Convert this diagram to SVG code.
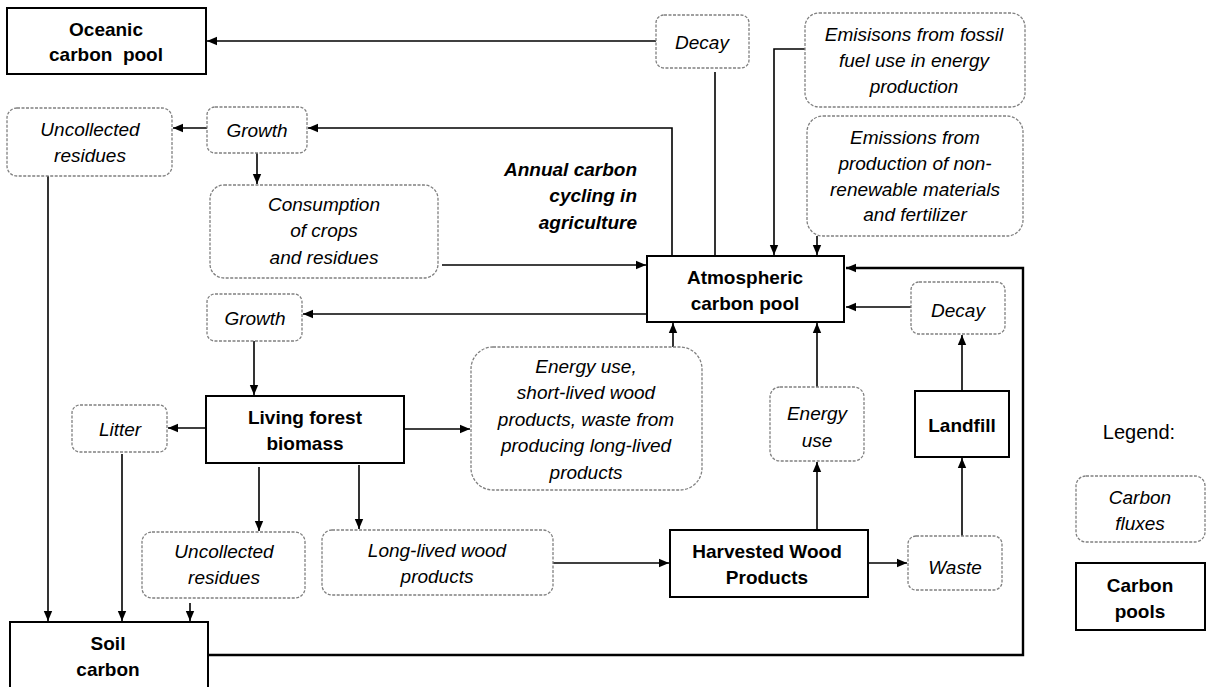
<svg xmlns="http://www.w3.org/2000/svg" width="1207" height="687" viewBox="0 0 1207 687">
<style>
.pool{fill:#fff;stroke:#000;stroke-width:2}
.flux{fill:#fff;stroke:#808080;stroke-width:1.3;stroke-dasharray:3 1.5}
text{font-family:"Liberation Sans",Arial,sans-serif;font-size:19px;fill:#000;text-anchor:middle;dominant-baseline:central}
.b{font-weight:bold}
.i{font-style:italic}
.c{fill:none;stroke:#000;stroke-width:1.6}
.thick{stroke-width:2.4}
</style>
<defs>
<marker id="ah" markerUnits="userSpaceOnUse" markerWidth="10" markerHeight="10" viewBox="0 0 10 10" refX="10" refY="5" orient="auto">
<path d="M0,0.8 L10,5 L0,9.2 z" fill="#000"/>
</marker>
</defs>
<rect width="1207" height="687" fill="#fff"/>

<g id="connectors">
<path class="c" d="M656,41 H207" marker-end="url(#ah)"/>
<path class="c" d="M715,72 V256"/>
<path class="c" d="M805,49 H774 V255" marker-end="url(#ah)"/>
<path class="c" d="M817,236 V255" marker-end="url(#ah)"/>
<path class="c" d="M672,256 V128 H308" marker-end="url(#ah)"/>
<path class="c" d="M207,128 H173" marker-end="url(#ah)"/>
<path class="c" d="M257,153 V184" marker-end="url(#ah)"/>
<path class="c" d="M442,265 H646" marker-end="url(#ah)"/>
<path class="c" d="M48,176 V621" marker-end="url(#ah)"/>
<path class="c" d="M647,314 H303" marker-end="url(#ah)"/>
<path class="c" d="M254,341 V395" marker-end="url(#ah)"/>
<path class="c" d="M206,428 H168" marker-end="url(#ah)"/>
<path class="c" d="M404,429 H470" marker-end="url(#ah)"/>
<path class="c" d="M122,454 V621" marker-end="url(#ah)"/>
<path class="c" d="M259,467 V531" marker-end="url(#ah)"/>
<path class="c" d="M359,465 V529" marker-end="url(#ah)"/>
<path class="c" d="M190,603 V621" marker-end="url(#ah)"/>
<path class="c" d="M673,347 V323" marker-end="url(#ah)"/>
<path class="c" d="M553,563 H669" marker-end="url(#ah)"/>
<path class="c" d="M817,530 V462" marker-end="url(#ah)"/>
<path class="c" d="M817,387 V323" marker-end="url(#ah)"/>
<path class="c" d="M866,563 H907" marker-end="url(#ah)"/>
<path class="c" d="M962,536 V458" marker-end="url(#ah)"/>
<path class="c" d="M962,391 V335" marker-end="url(#ah)"/>
<path class="c" d="M911,307 H846" marker-end="url(#ah)"/>
<path class="c thick" d="M208,655 H1023 V268 H846" marker-end="url(#ah)"/>
</g>

<g id="oceanic">
<rect class="pool" x="7" y="8" width="199" height="66"/>
<text class="b" x="106" y="29">Oceanic</text>
<text class="b" x="106" y="54" xml:space="preserve">carbon  pool</text>
</g>

<g id="decay-top">
<rect class="flux" x="656" y="15" width="93" height="53" rx="8"/>
<text class="i" x="702" y="42">Decay</text>
</g>

<g id="fossil">
<rect class="flux" x="805" y="13" width="220" height="94" rx="14"/>
<text class="i" x="914" y="34">Emisisons from fossil</text>
<text class="i" x="914" y="60">fuel use in energy</text>
<text class="i" x="914" y="86">production</text>
</g>

<g id="production">
<rect class="flux" x="807" y="116" width="216" height="120" rx="16"/>
<text class="i" x="915" y="137">Emissions from</text>
<text class="i" x="915" y="163">production of non-</text>
<text class="i" x="915" y="189">renewable materials</text>
<text class="i" x="915" y="214">and fertilizer</text>
</g>

<g id="annual">
<text class="b i" x="637" y="169" style="text-anchor:end">Annual carbon</text>
<text class="b i" x="637" y="195" style="text-anchor:end">cycling in</text>
<text class="b i" x="637" y="222" style="text-anchor:end">agriculture</text>
</g>

<g id="atmospheric">
<rect class="pool" x="647" y="256" width="197" height="66"/>
<text class="b" x="745" y="277">Atmospheric</text>
<text class="b" x="745" y="303">carbon pool</text>
</g>

<g id="decay-right">
<rect class="flux" x="911" y="282" width="94" height="52" rx="8"/>
<text class="i" x="958" y="310">Decay</text>
</g>

<g id="uncollected-top">
<rect class="flux" x="7" y="108" width="165" height="68" rx="10"/>
<text class="i" x="90" y="129">Uncollected</text>
<text class="i" x="90" y="155">residues</text>
</g>

<g id="growth-top">
<rect class="flux" x="207" y="107" width="100" height="46" rx="8"/>
<text class="i" x="257" y="130">Growth</text>
</g>

<g id="consumption">
<rect class="flux" x="210" y="185" width="228" height="93" rx="14"/>
<text class="i" x="324" y="204">Consumption</text>
<text class="i" x="324" y="230">of crops</text>
<text class="i" x="324" y="257">and residues</text>
</g>

<g id="growth-forest">
<rect class="flux" x="207" y="294" width="95" height="47" rx="8"/>
<text class="i" x="255" y="318">Growth</text>
</g>

<g id="living-forest">
<rect class="pool" x="206" y="396" width="198" height="67"/>
<text class="b" x="305" y="417">Living forest</text>
<text class="b" x="305" y="443">biomass</text>
</g>

<g id="litter">
<rect class="flux" x="72" y="405" width="95" height="47" rx="8"/>
<text class="i" x="120" y="429">Litter</text>
</g>

<g id="energy-short">
<rect class="flux" x="471" y="347" width="231" height="143" rx="22"/>
<text class="i" x="586" y="366">Energy use,</text>
<text class="i" x="586" y="392">short-lived wood</text>
<text class="i" x="586" y="419">products, waste from</text>
<text class="i" x="586" y="445">producing long-lived</text>
<text class="i" x="586" y="472">products</text>
</g>

<g id="energy-use">
<rect class="flux" x="770" y="387" width="94" height="74" rx="10"/>
<text class="i" x="817" y="413">Energy</text>
<text class="i" x="817" y="440">use</text>
</g>

<g id="landfill">
<rect class="pool" x="915" y="391" width="94" height="66"/>
<text class="b" x="962" y="425">Landfill</text>
</g>

<g id="uncollected-forest">
<rect class="flux" x="142" y="532" width="163" height="66" rx="10"/>
<text class="i" x="224" y="551">Uncollected</text>
<text class="i" x="224" y="577">residues</text>
</g>

<g id="long-lived">
<rect class="flux" x="322" y="530" width="231" height="65" rx="10"/>
<text class="i" x="437" y="550">Long-lived wood</text>
<text class="i" x="437" y="576">products</text>
</g>

<g id="hwp">
<rect class="pool" x="670" y="530" width="198" height="67"/>
<text class="b" x="767" y="551">Harvested Wood</text>
<text class="b" x="767" y="577">Products</text>
</g>

<g id="waste">
<rect class="flux" x="908" y="536" width="94" height="54" rx="8"/>
<text class="i" x="955" y="567">Waste</text>
</g>

<g id="soil">
<rect class="pool" x="10" y="622" width="198" height="80"/>
<text class="b" x="108" y="643">Soil</text>
<text class="b" x="108" y="669">carbon</text>
</g>

<g id="legend">
<text x="1139" y="432" style="font-size:20px">Legend:</text>
<rect class="flux" x="1076" y="476" width="129" height="66" rx="10"/>
<text class="i" x="1140" y="497">Carbon</text>
<text class="i" x="1140" y="523">fluxes</text>
<rect class="pool" x="1076" y="563" width="129" height="67"/>
<text class="b" x="1140" y="585">Carbon</text>
<text class="b" x="1140" y="611">pools</text>
</g>
</svg>
